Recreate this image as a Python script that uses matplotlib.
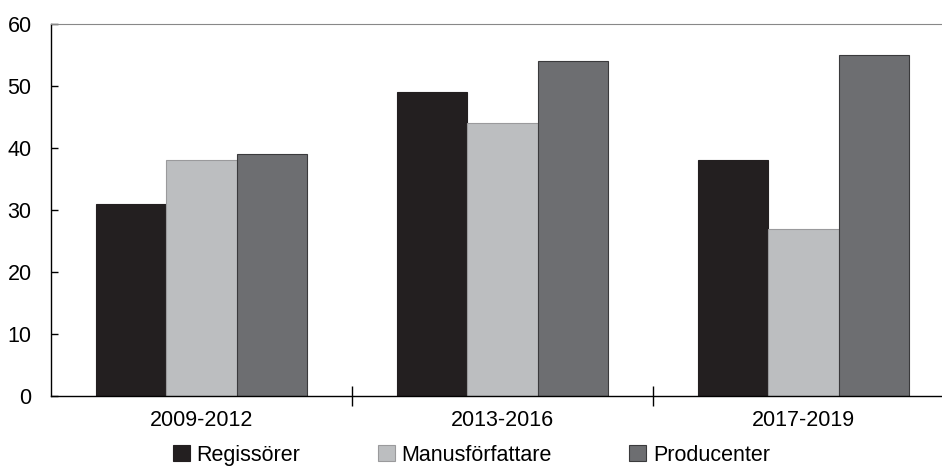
import matplotlib.pyplot as plt
import numpy as np

plt.rcParams['font.family'] = ['Liberation Sans', 'DejaVu Sans']

categories = ["2009-2012", "2013-2016", "2017-2019"]
series = ["Regissörer", "Manusförfattare", "Producenter"]
regissorer = [31, 49, 38]
manus = [38, 44, 27]
producenter = [39, 54, 55]

colors = ["#231f20", "#bcbec0", "#6d6e71"]
edges = ["#231f20", "#9a9a9c", "#3a3a3c"]

fig = plt.figure(figsize=(9.42, 4.67), dpi=100)
ax = fig.add_axes([51 / 942, 1 - 396 / 467, 903 / 942, 372 / 467])

x = np.arange(len(categories))
w = 0.233
for i, (vals, name) in enumerate(zip([regissorer, manus, producenter], series)):
    ax.bar(x + (i - 1) * w, vals, w, color=colors[i], edgecolor=edges[i],
           linewidth=0.8, label=name, zorder=2)

ax.set_xlim(-0.5, 2.5)
ax.set_ylim(0, 60)
ax.set_yticks(range(0, 61, 10))
ax.tick_params(axis='y', direction='in', length=5, width=1, labelsize=15.5, pad=14)

# kategorigränser som tickmarkeringar, etiketter i mitten
ax.set_xticks([0.5, 1.5])
ax.set_xticklabels([])
ax.set_xticks(x, minor=True)
ax.set_xticklabels(categories, minor=True)
ax.tick_params(axis='x', which='major', direction='inout', length=14, width=1)
ax.tick_params(axis='x', which='minor', length=0, labelsize=15.5, pad=10)

ax.spines['right'].set_visible(False)
ax.spines['top'].set_color('#888888')
ax.spines['left'].set_linewidth(1)
ax.spines['bottom'].set_linewidth(1)

ax.legend(loc='center', bbox_to_anchor=(0.4657, -0.159), ncol=3,
          frameon=False, fontsize=15.5, handlelength=0.79, handleheight=0.79,
          handletextpad=0.3, columnspacing=3.6, borderaxespad=0, borderpad=0)

fig.savefig("out.png", dpi=100)
